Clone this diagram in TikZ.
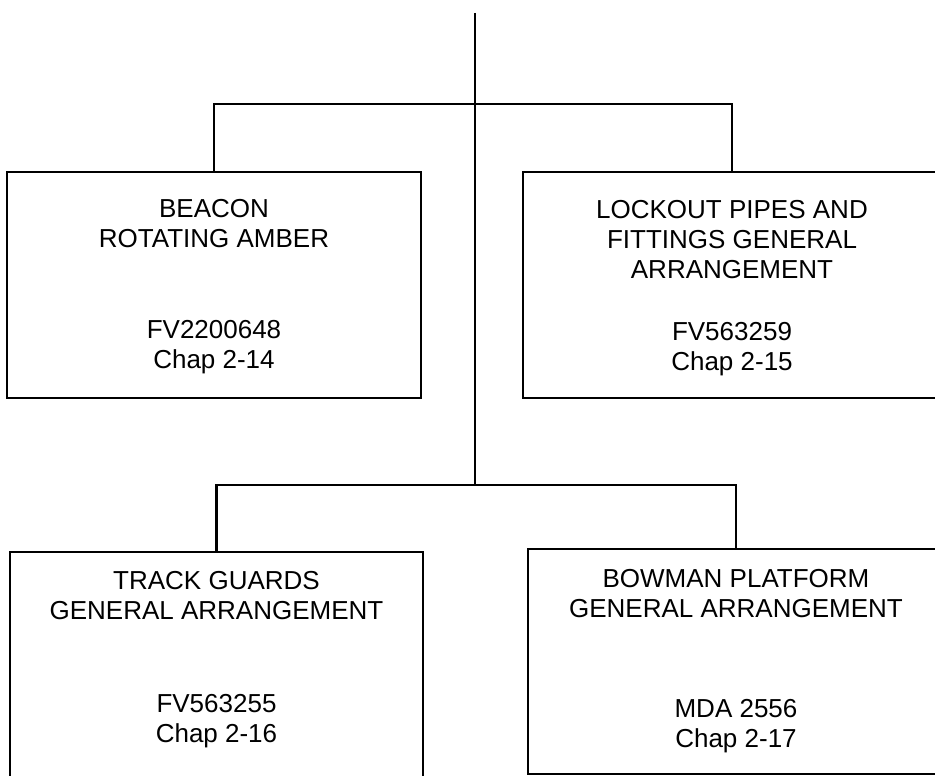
\documentclass[tikz,border=0pt]{standalone}
\usepackage{fontspec}
\setmainfont{Liberation Sans}
\usetikzlibrary{positioning}

\begin{document}
\begin{tikzpicture}[x=1pt, y=-1pt, line width=2.4pt,
    sheet/.style={draw, inner sep=0pt, outer sep=0pt},
    caption/.style={align=center, inner sep=0pt, font=\fontsize{26}{30}\selectfont}]
    \useasboundingbox (0,0) rectangle (935,776);
    % drawing sheets
    \node[sheet, minimum width=414pt, minimum height=226pt] (beacon) at (214,285) {};
    \node[sheet, minimum width=418pt, minimum height=226pt] (lockout) at (732,285) {};
    \node[sheet, minimum width=413pt, minimum height=250pt] (guards) at (216.5,677) {};
    \node[sheet, minimum width=416pt, minimum height=225pt] (bowman) at (736,661.5) {};
    % titles and references
    \node[caption, below=26pt of beacon.north] (beacon title) {BEACON\\ROTATING AMBER};
    \node[caption, below=147pt of beacon.north] (beacon ref) {FV2200648\\Chap 2-14};
    \node[caption, below=27pt of lockout.north] (lockout title) {LOCKOUT PIPES AND\\FITTINGS GENERAL\\ARRANGEMENT};
    \node[caption, below=149pt of lockout.north] (lockout ref) {FV563259\\Chap 2-15};
    \node[caption, below=18pt of guards.north] (guards title) {TRACK GUARDS\\GENERAL ARRANGEMENT};
    \node[caption, below=141pt of guards.north] (guards ref) {FV563255\\Chap 2-16};
    \node[caption, below=19pt of bowman.north] (bowman title) {BOWMAN PLATFORM\\GENERAL ARRANGEMENT};
    \node[caption, below=149pt of bowman.north] (bowman ref) {MDA 2556\\Chap 2-17};
    % tree lines
    \coordinate (feed) at (475,13);
    \coordinate (upper) at (475,104);
    \coordinate (lower) at (475,485);
    \draw (feed) -- (lower);
    \draw (beacon.north) |- (upper) -| (lockout.north);
    \draw (guards.north) |- (lower) -| (bowman.north);
\end{tikzpicture}
\end{document}
